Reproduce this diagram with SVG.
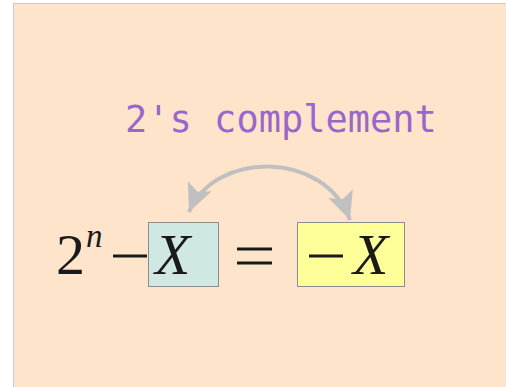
<svg xmlns="http://www.w3.org/2000/svg" width="506" height="387" viewBox="0 0 506 387">
<style>
.math{font-family:"Liberation Serif","Times New Roman",serif;fill:#1a1a1a}
.it{font-style:italic}
.box{stroke:#8c8c8c;stroke-width:1}
.conn{fill:none;stroke:#c0c0c0;stroke-width:4}
</style>
<defs>
<marker id="ah" markerUnits="userSpaceOnUse" markerWidth="30" markerHeight="28" refX="28" refY="14" orient="auto-start-reverse" viewBox="0 0 30 28">
<path d="M0,1 L28,14 L0,27 L6,14 Z" fill="#c0c0c0"/>
</marker>
</defs>
<rect x="13.5" y="3.5" width="494" height="385" fill="#ffe4cc" stroke="#cccccc" stroke-width="1"/>
<g id="title">
<text x="125" y="132" font-family="'DejaVu Sans Mono',monospace" font-size="37" fill="#9966cc">2's complement</text>
</g>
<g id="lhs">
<text x="56" y="274" class="math" font-size="58">2</text>
<text x="86" y="247" class="math it" font-size="33">n</text>
<rect x="113" y="254.5" width="34" height="3" fill="#1a1a1a"/>
</g>
<g id="boxX">
<rect class="box" x="148.5" y="222.5" width="70" height="64" fill="#d0e8e4"/>
<text x="155" y="274" class="math it" font-size="58">X</text>
</g>
<g id="equals">
<rect x="237" y="247.5" width="35" height="3" fill="#1a1a1a"/>
<rect x="237" y="261.5" width="35" height="3" fill="#1a1a1a"/>
</g>
<g id="boxNegX">
<rect class="box" x="297.5" y="222.5" width="107" height="64" fill="#ffff99"/>
<rect x="309" y="254.5" width="34" height="3" fill="#1a1a1a"/>
<text x="353" y="274" class="math it" font-size="58">X</text>
</g>
<g id="connectors">
<path class="conn" d="M189,212 C215,150 325,150 350,220" marker-start="url(#ah)" marker-end="url(#ah)"/>
</g>
</svg>
